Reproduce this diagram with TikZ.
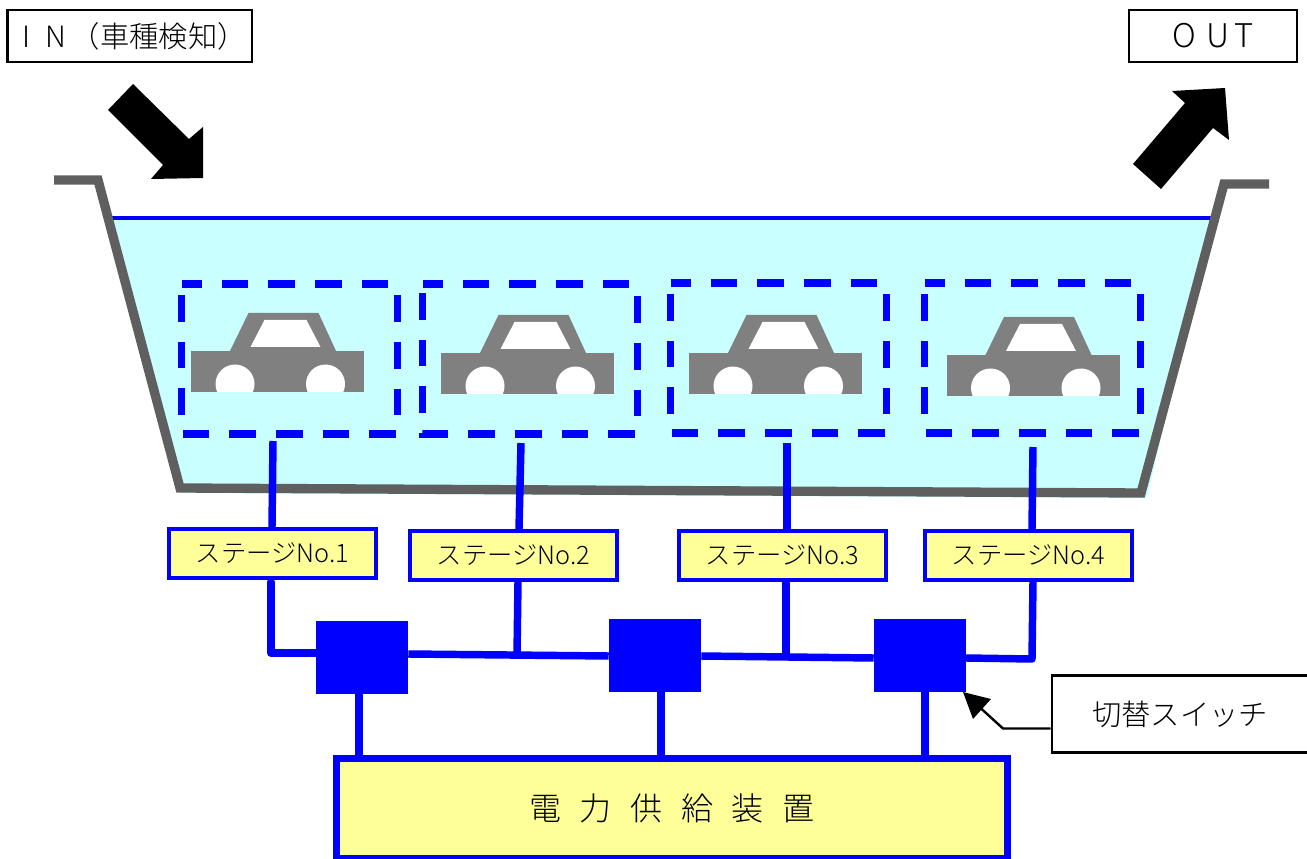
\documentclass[tikz,border=0pt]{standalone}
\usepackage{fontspec}
\setmainfont{Noto Sans CJK JP Light}
\usetikzlibrary{calc}
\definecolor{bl}{HTML}{0000FF}
\definecolor{wat}{HTML}{C9FFFF}
\definecolor{yel}{HTML}{FFFF99}
\definecolor{wall}{HTML}{5F5F5F}
\definecolor{carg}{HTML}{808080}
\tikzset{
  x=0.75pt,y=-0.75pt,
  wire/.style={draw=bl,line width=5.6pt,line join=round,line cap=round},
  stagezone/.style={draw=bl,line width=5.6pt,dash pattern=on 20pt off 15pt,dash phase=5pt,line join=miter},
  zone/.style={inner sep=0pt,minimum width=#1*0.75pt,minimum height=112pt},
  stagelab/.style={draw=bl,fill=yel,line width=3.2pt,inner sep=0pt,minimum width=155pt,minimum height=37pt,font=\fontsize{19}{20}\selectfont},
  swbox/.style={fill=bl,draw=none,inner sep=0pt,minimum width=69pt,minimum height=55pt},
  capbox/.style={draw=black,fill=white,line width=2pt,inner sep=0pt,font=\fontsize{22}{24}\selectfont},
  bigarrow/.style={fill=black,draw=none},
  car/.pic={
    \fill[carg] (-86.5,0) rectangle (86.5,41);
    \fill[carg] (-48,1) -- (-29,-38) -- (41,-38) -- (59,1) -- cycle;
    \fill[white] (-27,-4) -- (-13,-31) -- (29,-31) -- (43,-4) -- cycle;
    \begin{scope}
      \clip (-86.5,0) rectangle (86.5,40.5);
      \fill[white] (-42.5,33) circle[radius=19.5];
      \fill[white] (48,33) circle[radius=19.5];
    \end{scope}
  }
}
\begin{document}
\begin{tikzpicture}
\useasboundingbox (0,0) rectangle (1307,859);
% water and basin
\fill[wat] (110,218) -- (1212,218) -- (1147,498) -- (181,493) -- cycle;
\draw[bl,line width=3pt] (110,218) -- (1212,218);
\draw[wall,line width=7pt,line join=miter] (54,180) -- (98,180) -- (180,488) -- (1141,493) -- (1224,184) -- (1269,184);
% top captions
\node[capbox,minimum width=183.5pt,minimum height=39pt] (inbox) at (129.5,36) {\makebox[1em]{I}\makebox[1em]{N}（車種検知）};
\node[capbox,minimum width=126pt,minimum height=39pt] (outbox) at (1213,36) {\fontsize{24.5}{26}\selectfont O\hspace{8pt}U\hspace{3.5pt}T};
% big arrows
\fill[bigarrow] (133,84) -- (108,110) -- (163,165) -- (151,179) -- (203,178) -- (203,127) -- (189,139) -- cycle;
\fill[bigarrow] (1133,164) -- (1161,189) -- (1213,128) -- (1229,140) -- (1225,88) -- (1172,91) -- (1185,103) -- cycle;
% cars
\pic at (277.5,351) {car};
\pic at (527.5,353) {car};
\pic at (775.5,353) {car};
\pic at (1033,355) {car};
% dashed zones
\foreach \n/\cx/\cy/\w in {1/289.5/359/215,2/530/359/214,3/778.5/358/215,4/1032.5/358/215}{
  \node[zone=\w] (zone\n) at (\cx,\cy) {};
  \draw[stagezone] (zone\n.north west) -- (zone\n.north east) -- (zone\n.south east) -- (zone\n.south west) -- cycle;
}
% stage labels
\node[stagelab] (lab1) at (272.5,553.5) {ステージNo.1};
\node[stagelab] (lab2) at (513.5,555.5) {ステージNo.2};
\node[stagelab] (lab3) at (782.5,555.5) {ステージNo.3};
\node[stagelab] (lab4) at (1028.5,555.5) {ステージNo.4};
% switches
\node[swbox] (sw1) at (362,657.5) {};
\node[swbox] (sw2) at (655,655.5) {};
\node[swbox] (sw3) at (920,655.5) {};
% power
\node[draw=bl,fill=yel,line width=5pt,inner sep=0pt,minimum width=503pt,minimum height=74.6pt,font=\fontsize{24}{28}\selectfont] (power) at (672,808.5) {電\hspace{14pt}力\hspace{14pt}供\hspace{14pt}給\hspace{14pt}装\hspace{14pt}置};
% switch caption
\node[draw=black,fill=white,line width=2pt,inner sep=0pt,minimum width=192pt,minimum height=58pt,font=\fontsize{22}{24}\selectfont] (swcap) at (1180,714) {切替スイッチ};
% wires from zones to labels
\coordinate (z1) at (273,441); \coordinate (l1) at (272,527);
\coordinate (z2) at (521,443); \coordinate (l2) at (519,529);
\coordinate (z3) at (787,443); \coordinate (l3) at (787,529);
\coordinate (z4) at (1033,447); \coordinate (l4) at (1032,529);
\draw[wire,line cap=butt] (z1) -- (l1);
\draw[wire,line cap=butt] (z2) -- (l2);
\draw[wire,line cap=butt] (z3) -- (l3);
\draw[wire,line cap=butt] (z4) -- (l4);
% bus
\coordinate (b1) at (271,582); \coordinate (b1c) at (271,653); \coordinate (b1e) at (320,653);
\coordinate (b2) at (518,582); \coordinate (b2c) at (517,655);
\coordinate (b3) at (786,582); \coordinate (b3c) at (786,657);
\coordinate (b4) at (1033,582); \coordinate (b4c) at (1032,659);
\draw[wire] (b1) -- (b1c) -- (b1e);
\draw[wire,line cap=butt] (sw1.east |- 0,654) -- (sw2.west |- 0,656);
\draw[wire,line cap=butt] (sw2.east |- 0,656) -- (sw3.west |- 0,658);
\draw[wire] (sw3.east |- 0,658) -- (b4c) -- (b4);
\draw[wire,line cap=butt] (b2) -- (b2c);
\draw[wire,line cap=butt] (b3) -- (b3c);
% switch to power
\draw[wire,line cap=butt] (sw1.south) ++(-3,0) -- ++(0,64);
\draw[wire,line cap=butt] (sw2.south) ++(6,0) -- ++(0,66);
\draw[wire,line cap=butt] (sw3.south) ++(5,0) -- ++(0,66);
% switch pointer
\coordinate (tip) at (963,692);
\coordinate (elb) at (1003,728.5);
\draw[black,line width=1.8pt] (swcap.west |- elb) -- (elb) -- (975,703);
\fill[black] (tip) -- (991,699) -- (973,719) -- cycle;
\end{tikzpicture}
\end{document}
